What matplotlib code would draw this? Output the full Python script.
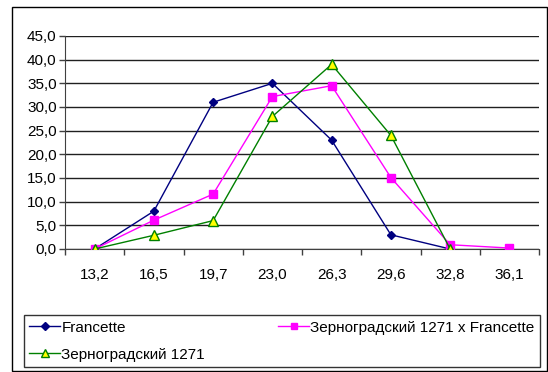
import numpy as np
import matplotlib.pyplot as plt
from matplotlib.patches import Rectangle

plt.rcParams['font.family'] = ['Liberation Sans', 'DejaVu Sans']

categories = ['13,2', '16,5', '19,7', '23,0', '26,3', '29,6', '32,8', '36,1']
francette = [0.0, 8.0, 31.0, 35.0, 23.0, 3.0, 0.0, np.nan]
hybrid = [0.0, 6.1, 11.6, 32.2, 34.5, 15.1, 0.9, 0.2]
zernograd = [0.0, 2.9, 6.0, 28.0, 39.0, 24.0, 0.0, np.nan]

W, H = 548, 372
fig = plt.figure(figsize=(W / 100, H / 100), dpi=100)
ax = fig.add_axes([65 / W, 1 - 249 / H, (539 - 65) / W, (249 - 36) / H])

x = np.arange(len(categories))
l1, = ax.plot(x, francette, color='#000080', marker='D', markersize=4.5,
              lw=1, zorder=3)
l2, = ax.plot(x, hybrid, color='#FF00FF', marker='s', markersize=5.5,
              lw=1, zorder=4)
l3, = ax.plot(x, zernograd, color='#008000', marker='^', markersize=6.5,
              markerfacecolor='#FFFF00', markeredgecolor='#008000',
              markeredgewidth=1, lw=1, zorder=5)

ax.set_xlim(-0.5, len(categories) - 0.5)
ax.set_ylim(0, 45)
ax.set_yticks(np.arange(0, 46, 5))
ax.set_yticklabels([f'{v:.1f}'.replace('.', ',') for v in np.arange(0, 46, 5)])
ax.set_xticks(x)
ax.set_xticklabels(categories)
ax.set_xticks(np.arange(-0.5, len(categories)), minor=True)
ax.tick_params(axis='x', which='major', length=0, pad=14, labelsize=11)
ax.tick_params(axis='x', which='minor', length=4, width=1, color='#404040')
ax.tick_params(axis='y', length=4, width=1, color='#404040', pad=2, labelsize=11)

ax.yaxis.grid(True, color='#202020', lw=1)
ax.set_axisbelow(True)
for side in ('top', 'right'):
    ax.spines[side].set_visible(False)
ax.spines['left'].set_color('#404040')
ax.spines['bottom'].set_color('#404040')

leg = fig.legend([l1, l3, l2],
                 ['Francette', 'Зерноградский 1271', 'Зерноградский 1271 x Francette'],
                 ncol=2, mode='expand', loc='lower left',
                 bbox_to_anchor=(24 / W, 1 - 367 / H, 516 / W, 60 / H),
                 borderaxespad=0, fontsize=11, handlelength=2.0,
                 handletextpad=0.1, labelspacing=0.85, borderpad=0.35,
                 markerscale=0.8, fancybox=False, frameon=True,
                 edgecolor='black')
leg.get_frame().set_linewidth(1)

# outer chart border
fig.patches.append(Rectangle((12 / W, 1 / H), 535 / W, 364 / H,
                             transform=fig.transFigure, fill=False,
                             edgecolor='black', lw=1))

fig.savefig('out.png', dpi=100)
